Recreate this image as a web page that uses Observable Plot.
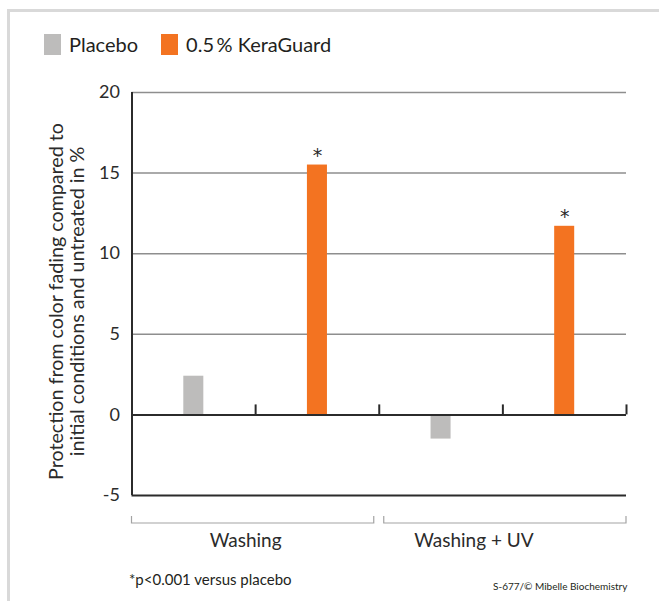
<!DOCTYPE html>
<html>
<head>
<meta charset="utf-8">
<script src="https://cdn.jsdelivr.net/npm/d3@7"></script>
<script src="https://cdn.jsdelivr.net/npm/@observablehq/plot@0.6"></script>
<style>
  body { margin: 0; background: #fff; font-family: Lato, "Open Sans", sans-serif; color: #231f20; }
  #page { position: relative; width: 659px; height: 601px; overflow: hidden; }
  #chart { position: absolute; left: 0; top: 0; }
  #frame { position: absolute; left: 7px; top: 9px; width: 700px; height: 700px;
           border-top: 3px solid #d9d9d9; border-left: 3px solid #d9d9d9; pointer-events: none; }
  #legend { position: absolute; left: 44px; top: 32px; display: flex; align-items: center; font-size: 20px; }
  .item { display: flex; align-items: center; margin-right: 23px; }
  .sw { width: 17px; height: 21px; margin-right: 8px; }
  .note { position: absolute; white-space: nowrap; }
</style>
</head>
<body>
<div id="page">
  <div id="chart"></div>
  <div id="frame"></div>
  <div id="legend"></div>
  <div class="note" id="foot" style="left:129px; top:570px; font-size:15px;"></div>
  <div class="note" id="credit" style="left:493px; top:580px; font-size:10px;"></div>
</div>
<script>
// ---- data ----
const groups = ["Washing", "Washing + UV"];
const series = ["Placebo", "0.5\u2009% KeraGuard"];
const placeboValues = [2.4, -1.5];
const keraGuardValues = [15.5, 11.7];
const starredSeries = ["0.5\u2009% KeraGuard"];
const yTicks = [-5, 0, 5, 10, 15, 20];
const gridValues = [5, 10, 15, 20];
const seriesColors = ["#bdbcbb", "#f37321"];
const yLabelLines = ["Protection from color fading compared to", "initial conditions and untreated in %"];
const footnote = "*p<0.001 versus placebo";
const credit = "S-677/\u00a9 Mibelle Biochemistry";

// build rows: slot index = position in band order
const seriesValues = [placeboValues, keraGuardValues];
const rows = [];
groups.forEach((g, gi) => series.forEach((s, si) => {
  rows.push({group: g, gi, series: s, value: seriesValues[si][gi], slot: gi * series.length + si});
}));
const nSlots = groups.length * series.length;
const slotEdges = d3.range(nSlots + 1);
const groupInfo = groups.map((g, gi) => ({group: g, start: gi * series.length, end: (gi + 1) * series.length}));
const [yMin, yMax] = d3.extent(yTicks);

const ink = "#2b2b2b";

const bracketMark = (index, scales) => {
  const g = d3.create("svg:g");
  const yb = scales.y(yMin) + 28;
  groupInfo.forEach((d, i) => {
    let x1 = scales.x(d.start), x2 = scales.x(d.end);
    if (i > 0) x1 += 5;
    if (i < groupInfo.length - 1) x2 -= 5;
    g.append("path")
      .attr("d", `M${x1},${yb - 7}V${yb}H${x2}V${yb - 7}`)
      .attr("fill", "none").attr("stroke", "#a3a3a3").attr("stroke-width", 1.2);
  });
  return g.node();
};

const yLabelMark = (index, scales) => {
  const cy = (scales.y(yMin) + scales.y(yMax)) / 2 + 8;
  const left = scales.x(0);
  const t = d3.create("svg:text")
    .attr("transform", `translate(0,${cy}) rotate(-90)`)
    .attr("text-anchor", "middle")
    .attr("font-size", 19.7)
    .attr("fill", ink);
  yLabelLines.forEach((line, i) => {
    t.append("tspan").attr("x", 0).attr("y", left - 69 + i * 21).text(line);
  });
  return t.node();
};

const chart = Plot.plot({
  width: 659,
  height: 601,
  marginLeft: 131.5,
  marginRight: 33,
  marginTop: 92,
  marginBottom: 106,
  style: {background: "transparent", fontFamily: "Lato, 'Open Sans', sans-serif", color: ink},
  x: {domain: [0, nSlots], axis: null},
  y: {domain: [yMin, yMax], axis: null},
  color: {domain: series, range: seriesColors},
  marks: [
    Plot.ruleY(gridValues, {stroke: "#8e8e8e", strokeWidth: 1.5}),
    Plot.rectY(rows, {x1: "slot", x2: d => d.slot + 1, y1: 0, y2: "value", fill: "series", insetLeft: 51.8, insetRight: 51.8}),
    Plot.ruleY([0, yMin], {stroke: ink, strokeWidth: 2}),
    Plot.ruleX([0], {y1: yMin, y2: yMax, stroke: ink, strokeWidth: 2}),
    Plot.ruleX(slotEdges.slice(1), {y1: 0, y2: 0.62, stroke: ink, strokeWidth: 2}),
    Plot.axisY({ticks: yTicks, tickSize: 0, tickPadding: 12, label: null, fontSize: 18, tickFormat: d => d, fill: ink}),
    Plot.text(rows.filter(d => starredSeries.includes(d.series)), {x: d => d.slot + 0.5, y: "value", text: () => "*", dy: -3, lineAnchor: "bottom", fontSize: 19, fontFamily: "DejaVu Sans", fill: ink}),
    bracketMark,
    Plot.text(groupInfo.slice(0, 1), {x: d => (d.start + d.end) / 2, y: yMin, text: "group", dy: 45, dx: -10, fontSize: 19, fill: ink}),
    Plot.text(groupInfo.slice(1, 2), {x: d => (d.start + d.end) / 2, y: yMin, text: "group", dy: 45, dx: -29, fontSize: 19, fill: ink}),
    yLabelMark
  ]
});
document.getElementById("chart").appendChild(chart);

// legend
const legend = d3.select("#legend");
series.forEach((s, i) => {
  const item = legend.append("div").attr("class", "item");
  item.append("div").attr("class", "sw").style("background", seriesColors[i]);
  item.append("span").text(s);
});
document.getElementById("foot").textContent = footnote;
document.getElementById("credit").textContent = credit;
</script>
</body>
</html>
